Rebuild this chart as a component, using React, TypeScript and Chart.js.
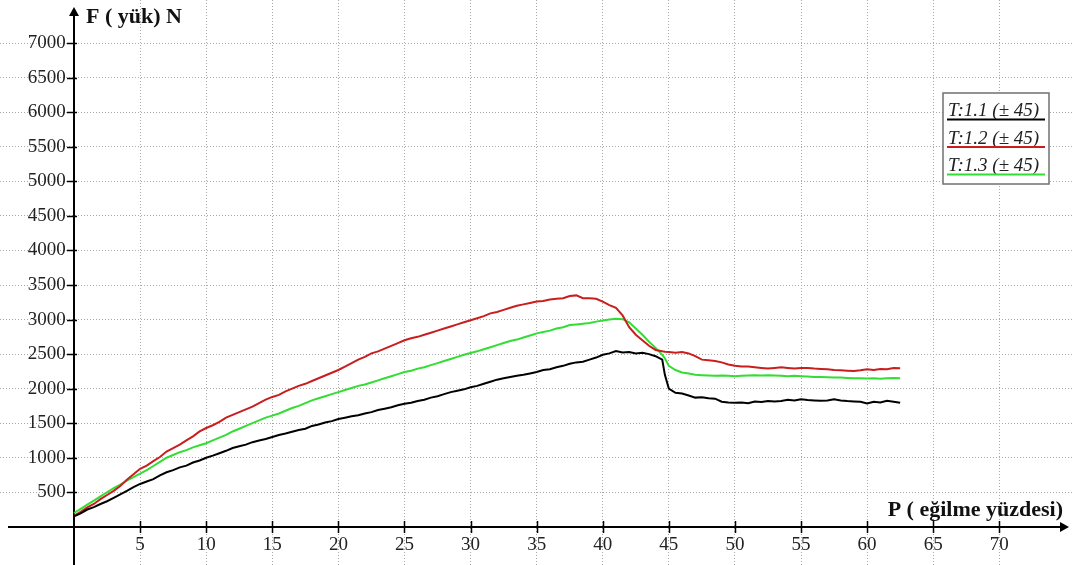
import React, { useEffect, useRef } from 'react';
import { Chart, registerables } from 'chart.js';

Chart.register(...registerables);

// P (eğilme yüzdesi) sample positions
const P_VALUES = [
  0, 0.5, 1, 1.5, 2, 2.5, 3, 3.5, 4, 4.5,
  5, 5.5, 6, 6.5, 7, 7.5, 8, 8.5, 9, 9.5,
  10, 10.5, 11, 11.5, 12, 12.5, 13, 13.5, 14, 14.5,
  15, 15.5, 16, 16.5, 17, 17.5, 18, 18.5, 19, 19.5,
  20, 20.5, 21, 21.5, 22, 22.5, 23, 23.5, 24, 24.5,
  25, 25.5, 26, 26.5, 27, 27.5, 28, 28.5, 29, 29.5,
  30, 30.5, 31, 31.5, 32, 32.5, 33, 33.5, 34, 34.5,
  35, 35.5, 36, 36.5, 37, 37.5, 38, 38.5, 39, 39.5,
  40, 40.5, 41, 41.5, 42, 42.5, 43, 43.5, 44, 44.5,
  44.7,
  45, 45.5, 46, 46.5, 47, 47.5, 48, 48.5, 49, 49.5,
  50, 50.5, 51, 51.5, 52, 52.5, 53, 53.5, 54, 54.5,
  55, 55.5, 56, 56.5, 57, 57.5, 58, 58.5, 59, 59.5,
  60, 60.5, 61, 61.5, 62, 62.5,
];

// F (yük) N — T:1.1
const T11_VALUES = [
  150, 195, 250, 285, 330, 370, 420, 470, 520, 575,
  620, 655, 690, 745, 790, 820, 860, 885, 930, 960,
  1000, 1030, 1065, 1100, 1140, 1165, 1190, 1225, 1250, 1270,
  1300, 1330, 1350, 1375, 1400, 1420, 1460, 1480, 1510, 1530,
  1560, 1580, 1600, 1615, 1640, 1660, 1690, 1710, 1730, 1760,
  1780, 1795, 1820, 1840, 1870, 1890, 1920, 1950, 1970, 1990,
  2020, 2040, 2070, 2100, 2130, 2150, 2170, 2185, 2200, 2220,
  2240, 2270, 2280, 2310, 2330, 2360, 2380, 2390, 2420, 2450,
  2490, 2510, 2545, 2525, 2530, 2510, 2520, 2500, 2470, 2420,
  2200,
  2000, 1940, 1930, 1900, 1870, 1875, 1860, 1855, 1810, 1800,
  1795, 1800, 1790, 1815, 1805, 1820, 1815, 1820, 1840, 1830,
  1845, 1835, 1830, 1825, 1830, 1845, 1830, 1820, 1815, 1810,
  1785, 1810, 1800, 1825, 1810, 1795,
];

// F (yük) N — T:1.2
const T12_VALUES = [
  160, 215, 280, 330, 400, 460, 520, 590, 680, 760,
  840, 885, 950, 1010, 1090, 1140, 1190, 1250, 1310, 1380,
  1430, 1470, 1520, 1580, 1620, 1660, 1700, 1740, 1790, 1840,
  1880, 1910, 1960, 2000, 2040, 2070, 2110, 2150, 2190, 2230,
  2270, 2320, 2370, 2420, 2460, 2510, 2540, 2580, 2620, 2660,
  2700, 2730, 2750, 2780, 2810, 2840, 2870, 2900, 2930, 2960,
  2990, 3020, 3050, 3090, 3110, 3140, 3170, 3200, 3220, 3240,
  3260, 3270, 3290, 3300, 3310, 3340, 3350, 3310, 3310, 3300,
  3260, 3210, 3170, 3060, 2890, 2780, 2700, 2620, 2560, 2540,
  2535,
  2530, 2520, 2530, 2510, 2470, 2420, 2410, 2400, 2380, 2350,
  2330, 2320, 2320, 2310, 2300, 2290, 2300, 2310, 2300, 2290,
  2300, 2300, 2290, 2285, 2280, 2270, 2265, 2260, 2255, 2265,
  2280, 2270, 2285, 2280, 2300, 2295,
];

// F (yük) N — T:1.3
const T13_VALUES = [
  200, 260, 320, 380, 440, 500, 560, 610, 670, 720,
  770, 820, 880, 940, 1000, 1040, 1080, 1110, 1150, 1180,
  1210, 1250, 1290, 1330, 1380, 1420, 1460, 1500, 1540, 1580,
  1610, 1640, 1680, 1720, 1750, 1790, 1830, 1860, 1890, 1920,
  1950, 1980, 2010, 2040, 2060, 2090, 2120, 2150, 2180, 2210,
  2240, 2260, 2290, 2310, 2340, 2370, 2400, 2430, 2460, 2490,
  2515, 2540, 2570, 2600, 2630, 2660, 2690, 2710, 2740, 2770,
  2800, 2820, 2840, 2870, 2890, 2920, 2930, 2940, 2950, 2970,
  2985, 3000, 3010, 3005, 2960, 2870, 2780, 2680, 2590, 2490,
  2440,
  2330, 2270, 2235, 2220, 2200, 2195, 2190, 2185, 2190, 2185,
  2180, 2185, 2190, 2195, 2190, 2195, 2190, 2185, 2180, 2185,
  2180, 2175, 2170, 2170, 2165, 2160, 2160, 2155, 2150, 2150,
  2148, 2150, 2145, 2150, 2155, 2150,
];

const SERIES_LABELS = ['T:1.1 (± 45)', 'T:1.2 (± 45)', 'T:1.3 (± 45)'];
const SERIES_COLORS = ['#000000', '#c81e1e', '#33dd33'];
const X_TICK_LABELS = [5, 10, 15, 20, 25, 30, 35, 40, 45, 50, 55, 60, 65, 70];
const Y_TICK_LABELS = [500, 1000, 1500, 2000, 2500, 3000, 3500, 4000, 4500, 5000, 5500, 6000, 6500, 7000];
const X_TITLE = 'P ( eğilme yüzdesi)';
const Y_TITLE = 'F ( yük) N';

const SERIF = "'Liberation Serif', 'DejaVu Serif', serif";

const decorPlugin = {
  id: 'decor',
  beforeDatasetsDraw(chart: any) {
    const { ctx, scales } = chart;
    const xs = scales.x;
    const ys = scales.y;
    const ox = Math.round(xs.getPixelForValue(0));
    const oy = Math.round(ys.getPixelForValue(0));
    ctx.save();
    ctx.strokeStyle = '#000';
    ctx.fillStyle = '#000';
    ctx.lineWidth = 2;
    ctx.beginPath();
    ctx.moveTo(8, oy);
    ctx.lineTo(chart.width - 10, oy);
    ctx.moveTo(ox, chart.height);
    ctx.lineTo(ox, 14);
    ctx.stroke();
    // arrow heads
    ctx.beginPath();
    ctx.moveTo(chart.width - 3, oy);
    ctx.lineTo(chart.width - 12, oy - 5);
    ctx.lineTo(chart.width - 12, oy + 5);
    ctx.closePath();
    ctx.fill();
    ctx.beginPath();
    ctx.moveTo(ox, 7);
    ctx.lineTo(ox - 5, 16);
    ctx.lineTo(ox + 5, 16);
    ctx.closePath();
    ctx.fill();
    // tick marks crossing the axes
    ctx.lineWidth = 1.5;
    ctx.beginPath();
    X_TICK_LABELS.forEach((v) => {
      const px = Math.round(xs.getPixelForValue(v)) + 0.5;
      ctx.moveTo(px, oy - 6);
      ctx.lineTo(px, oy + 6);
    });
    Y_TICK_LABELS.forEach((v) => {
      const py = Math.round(ys.getPixelForValue(v)) + 0.5;
      ctx.moveTo(ox - 7, py);
      ctx.lineTo(ox + 3, py);
    });
    ctx.stroke();
    ctx.restore();
  },
  afterDraw(chart: any) {
    const { ctx } = chart;
    ctx.save();
    // axis titles
    ctx.fillStyle = '#111';
    ctx.font = `bold 22px ${SERIF}`;
    ctx.textBaseline = 'alphabetic';
    ctx.textAlign = 'left';
    ctx.fillText(Y_TITLE, 86, 23);
    ctx.textAlign = 'right';
    ctx.fillText(X_TITLE, 1063, 516);
    // legend box
    const bx = 943, by = 93, bw = 106, bh = 91;
    ctx.fillStyle = '#fff';
    ctx.fillRect(bx, by, bw, bh);
    ctx.strokeStyle = '#707070';
    ctx.lineWidth = 1.5;
    ctx.strokeRect(bx, by, bw, bh);
    ctx.textAlign = 'left';
    ctx.font = `italic 19px ${SERIF}`;
    chart.data.datasets.forEach((ds: any, i: number) => {
      const base = 116 + i * 27.5;
      ctx.fillStyle = '#222';
      ctx.fillText(ds.label, 948, base);
      ctx.strokeStyle = ds.borderColor;
      ctx.lineWidth = 2;
      ctx.beginPath();
      ctx.moveTo(947, base + 3.5);
      ctx.lineTo(1045, base + 3.5);
      ctx.stroke();
    });
    ctx.restore();
  },
};

const zeroPadding = (scale: any) => {
  scale.paddingTop = 0;
  scale.paddingBottom = 0;
  scale.paddingLeft = 0;
  scale.paddingRight = 0;
};

export default function App() {
  const canvasRef = useRef<HTMLCanvasElement | null>(null);

  useEffect(() => {
    document.body.style.margin = '0';
    const canvas = canvasRef.current;
    if (!canvas) return;
    const seriesValues = [T11_VALUES, T12_VALUES, T13_VALUES];
    const chart = new Chart(canvas, {
      type: 'line',
      data: {
        datasets: seriesValues.map((vals, i) => ({
          label: SERIES_LABELS[i],
          data: P_VALUES.map((p, j) => ({ x: p, y: vals[j] })),
          borderColor: SERIES_COLORS[i],
          backgroundColor: SERIES_COLORS[i],
          borderWidth: 2,
          pointRadius: 0,
          tension: 0,
          fill: false,
        })),
      },
      options: {
        animation: false,
        responsive: true,
        maintainAspectRatio: false,
        layout: { padding: 0 },
        plugins: {
          legend: { display: false },
          tooltip: { enabled: false },
          title: { display: false },
        },
        scales: {
          x: {
            type: 'linear',
            min: -5.6,
            max: 75.5,
            position: { y: 0 } as any,
            afterBuildTicks: (scale: any) => {
              scale.ticks = X_TICK_LABELS.map((v) => ({ value: v }));
            },
            afterFit: zeroPadding,
            ticks: {
              autoSkip: false,
              maxRotation: 0,
              minRotation: 0,
              padding: 7,
              color: '#222',
              font: { family: SERIF, size: 19 },
              callback: (v: any) => String(v),
            },
            grid: {
              drawTicks: false,
              lineWidth: 1,
              color: '#a9a9a9',
            },
            border: { display: false, dash: [1, 2] },
          },
          y: {
            type: 'linear',
            min: -553,
            max: 7626,
            // labels anchored just left of the x = 0 axis line
            position: { x: -0.62 } as any,
            afterBuildTicks: (scale: any) => {
              scale.ticks = Y_TICK_LABELS.map((v) => ({ value: v }));
            },
            afterFit: zeroPadding,
            ticks: {
              autoSkip: false,
              padding: 8,
              color: '#222',
              font: { family: SERIF, size: 19 },
              callback: (v: any) => String(v),
            },
            grid: {
              drawTicks: false,
              lineWidth: 1,
              color: '#a9a9a9',
            },
            border: { display: false, dash: [1, 2] },
          },
        },
      },
      plugins: [decorPlugin],
    });
    return () => chart.destroy();
  }, []);

  return (
    <div style={{ position: 'absolute', left: 0, top: 0, width: 1072, height: 565, background: '#fff' }}>
      <canvas ref={canvasRef} />
    </div>
  );
}
